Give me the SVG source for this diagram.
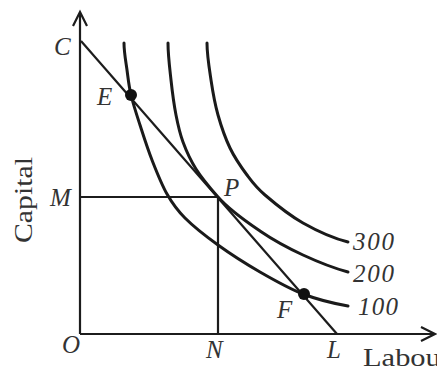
<svg xmlns="http://www.w3.org/2000/svg" width="437" height="372" viewBox="0 0 437 372">
<style>
.ax{stroke:#1c1c1c;stroke-width:2.2;fill:none}
.cv{stroke:#1a1a1a;stroke-width:3;fill:none;stroke-linecap:round}
.ln{stroke:#1c1c1c;stroke-width:2.2;fill:none}
.lb{font-family:"Liberation Serif","Times New Roman",serif;font-style:italic;font-size:25px;fill:#333}
.tx{font-family:"Liberation Serif","Times New Roman",serif;font-size:25px;fill:#333}
.dot{fill:#111}
</style>
<rect width="437" height="372" fill="#fff"/>
<g id="axes">
<path class="ax" d="M80,334 V13"/>
<path class="ax" d="M73,26 L80,12 L87,26"/>
<path class="ax" d="M80,334 H435"/>
<path class="ax" d="M421,327 L435,334 L421,341"/>
</g>
<g id="connectors">
<path id="isocost" class="ln" d="M81,41 L337,334"/>
<path id="guides" class="ln" d="M80,197 H218 V334"/>
</g>
<g id="q100">
<path class="cv" d="M124,43 C124,52 125.8,61.3 127,70 C128.2,78.7 128.8,85.8 131,95 C133.2,104.2 136.5,114.2 140,125 C143.5,135.8 147.5,148.5 152,160 C156.5,171.5 161.5,184.3 167,194 C172.5,203.7 176.5,209.5 185,218 C193.5,226.5 205.5,236 218,245 C230.5,254 245.8,263.8 260,272 C274.2,280.2 288.3,288.3 303,294 C317.7,299.7 334,303.5 348,306"/>
<text class="lb" x="358" y="315" textLength="40">100</text>
</g>
<g id="q200">
<path class="cv" d="M168,43 C168,55 169.7,68 171,80 C172.3,92 174,104.7 176,115 C178,125.3 179.7,133 183,142 C186.3,151 190.2,159.8 196,169 C201.8,178.2 208.5,186.2 218,197 C230,210.7 245.8,221.3 260,231 C274.2,240.7 288.3,248.2 303,255 C317.7,261.8 335,268.5 348,272"/>
<text class="lb" x="353" y="282" textLength="41">200</text>
</g>
<g id="q300">
<path class="cv" d="M207,43 C207,55 209.2,68 211,80 C212.8,92 214.8,103.7 218,115 C221.2,126.3 225.2,138 230,148 C234.8,158 241.2,167.2 247,175 C252.8,182.8 255.7,187 265,195 C274.3,203 289.2,215.2 303,223 C316.8,230.8 334,238.5 348,242"/>
<text class="lb" x="353" y="250" textLength="41">300</text>
</g>
<g id="E"><circle class="dot" cx="131" cy="95" r="6"/><text class="lb" x="97" y="105">E</text></g>
<g id="F"><circle class="dot" cx="304" cy="294" r="6"/><text class="lb" x="277" y="318">F</text></g>
<g id="P"><text class="lb" x="224" y="196">P</text></g>
<g id="C"><text class="lb" x="54" y="55">C</text></g>
<g id="M"><text class="lb" x="50" y="206">M</text></g>
<g id="O"><text class="lb" x="62" y="353">O</text></g>
<g id="N"><text class="lb" x="206" y="358">N</text></g>
<g id="L"><text class="lb" x="327" y="358">L</text></g>
<g id="labels">
<text class="tx" x="363" y="366" textLength="88" lengthAdjust="spacingAndGlyphs">Labour</text>
<text class="tx" transform="translate(32,200) rotate(-90)" text-anchor="middle" textLength="86" lengthAdjust="spacingAndGlyphs">Capital</text>
</g>
</svg>
